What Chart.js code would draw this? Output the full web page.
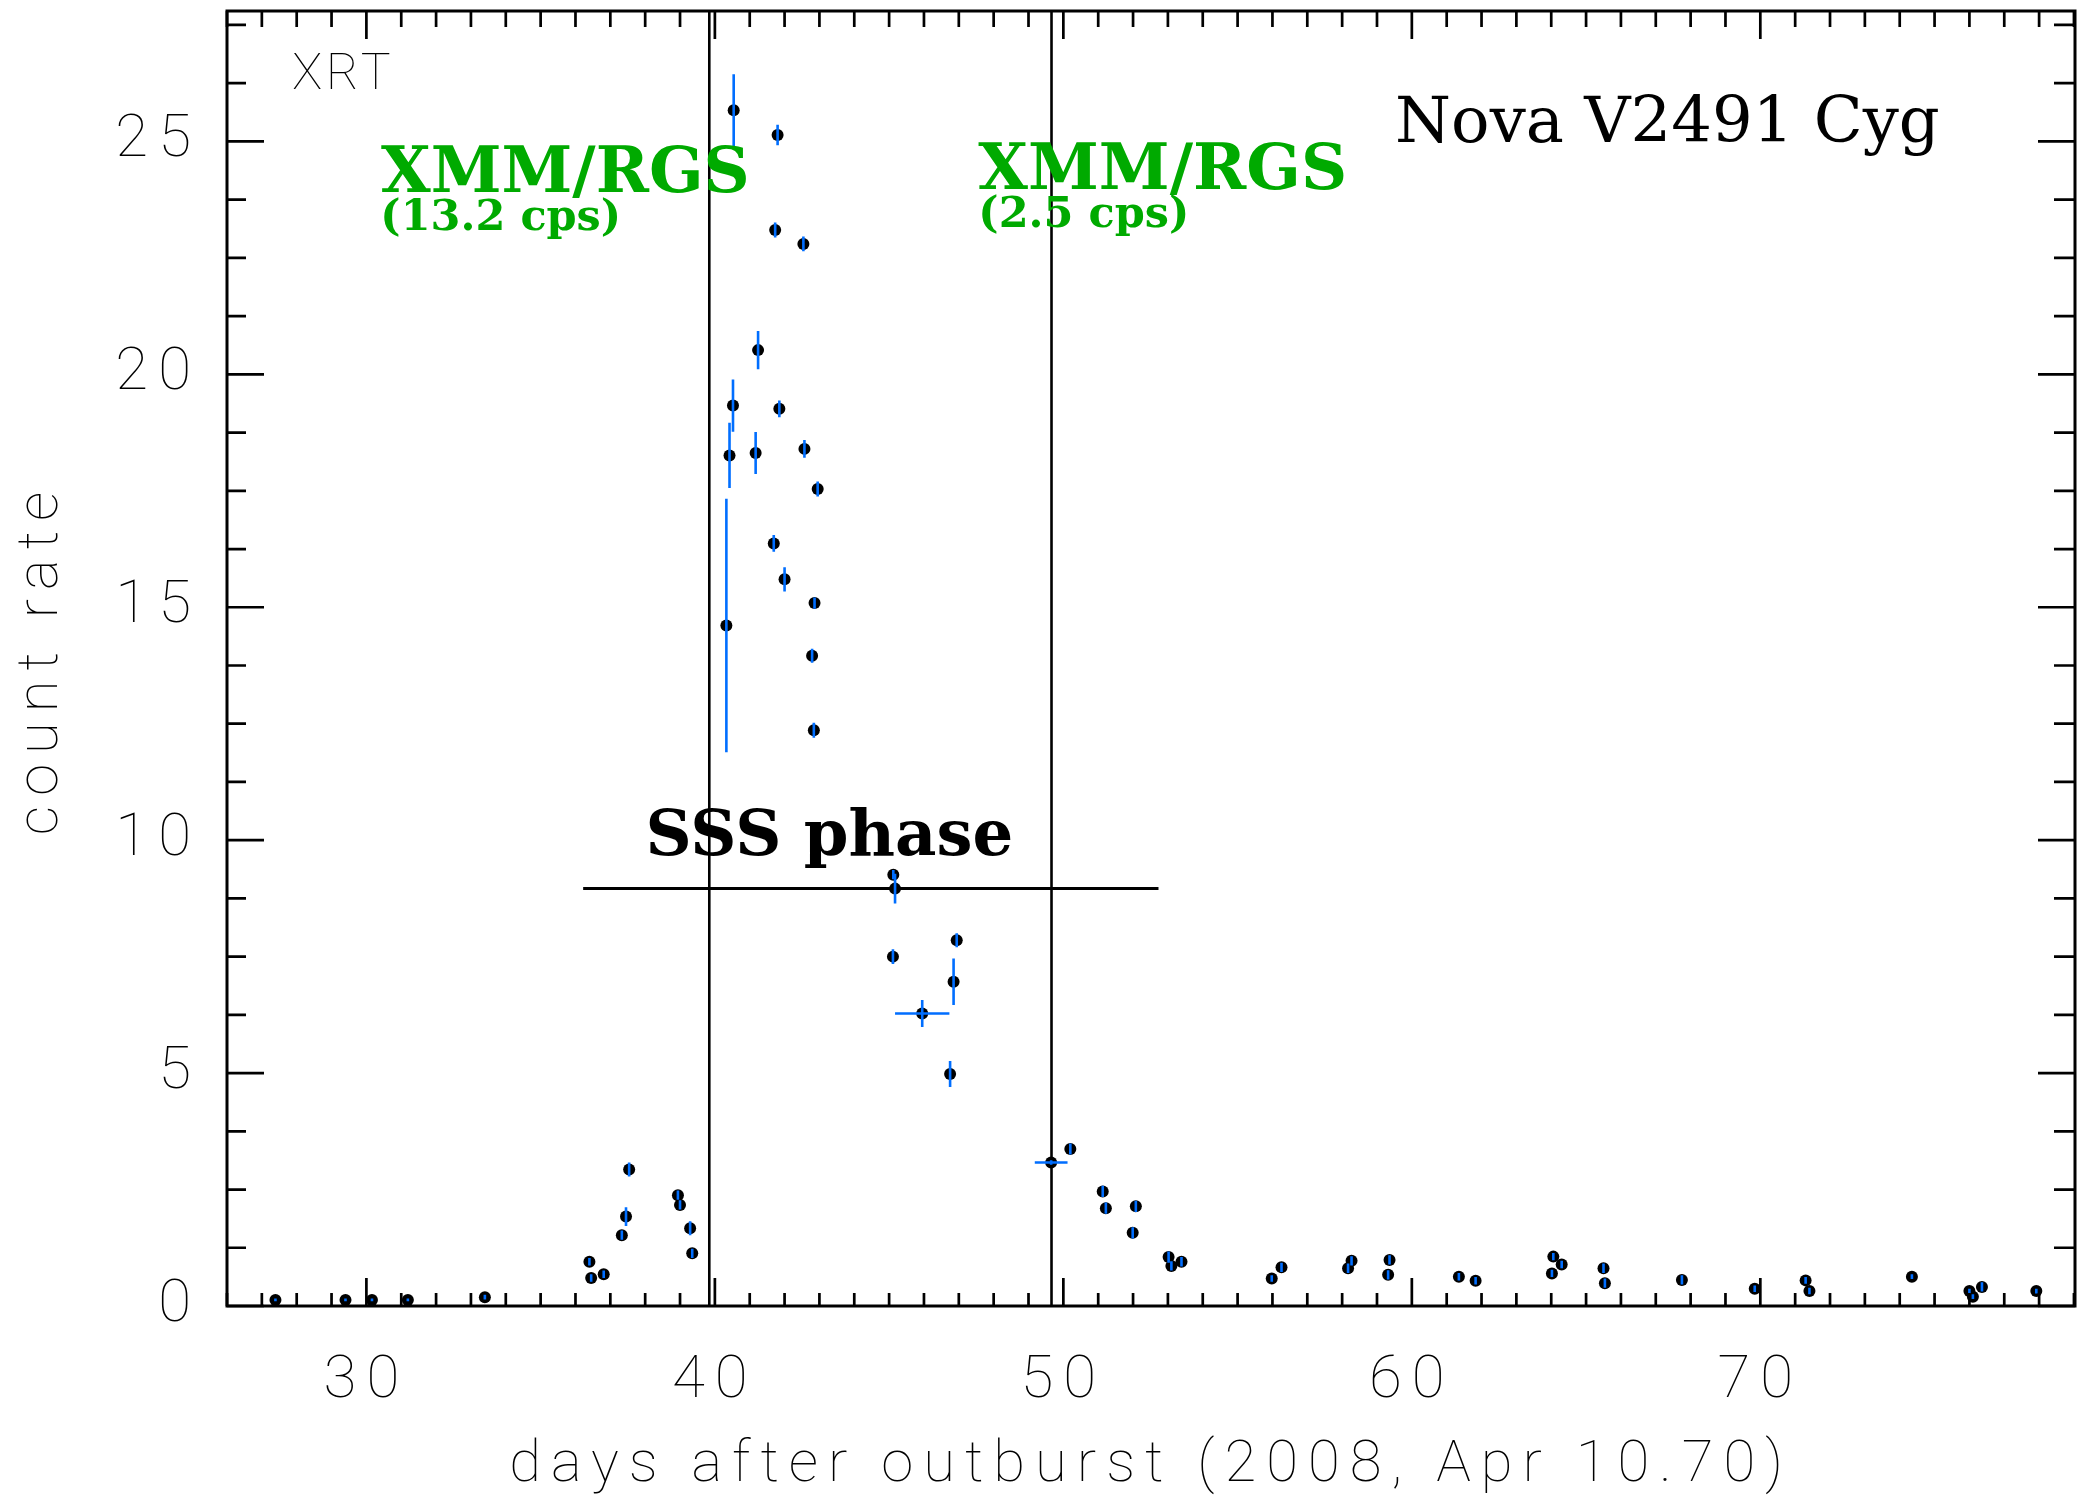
<!DOCTYPE html>
<html><head><meta charset="utf-8">
<script src="https://cdn.jsdelivr.net/npm/chart.js@4"></script>
<style>html,body{margin:0;padding:0;background:#fff;}#wrap{width:2081px;height:1498px;}</style>
</head><body><div id="wrap"><canvas id="c" width="2081" height="1498"></canvas></div>
<script>
// ---- data (days after outburst, XRT count rate) ----
const days = [27.39,29.40,30.16,31.19,33.40,36.40,36.45,36.81,37.33,37.45,37.54,38.94,39.00,39.29,39.35,
  40.33,40.42,40.52,40.54,41.17,41.24,41.69,41.73,41.80,41.85,42.00,42.54,42.57,42.79,42.84,42.86,42.95,
  45.12,45.17,45.11,45.95,46.75,46.85,46.94,
  49.65,50.20,51.13,51.22,51.99,52.08,53.02,53.10,53.39,55.98,56.26,58.17,58.27,59.32,59.36,61.35,61.83,
  64.02,64.06,64.30,65.50,65.54,67.75,69.84,71.30,71.41,74.35,76.00,76.10,76.36,77.92];
const rates = [0.13,0.13,0.13,0.13,0.19,0.95,0.60,0.68,1.52,1.92,2.93,2.38,2.17,1.67,1.13,
  14.61,18.26,19.33,25.67,18.31,20.52,16.37,23.10,25.14,19.26,15.60,22.80,18.40,13.96,12.36,15.09,17.54,
  9.26,8.96,7.50,6.28,4.98,6.96,7.85,
  3.08,3.37,2.46,2.10,1.57,2.14,1.05,0.86,0.95,0.59,0.83,0.81,0.97,0.67,0.99,0.63,0.54,
  0.70,1.06,0.89,0.81,0.49,0.56,0.37,0.55,0.32,0.63,0.32,0.20,0.41,0.32];
const rateErr = [0.03,0.03,0.03,0.03,0.05,0.08,0.08,0.08,0.10,0.20,0.15,0.10,0.10,0.15,0.10,
  2.72,0.70,0.56,0.77,0.45,0.41,0.18,0.16,0.22,0.18,0.26,0.16,0.19,0.15,0.16,0.12,0.16,
  0.10,0.32,0.16,0.29,0.28,0.50,0.15,
  0.05,0.12,0.12,0.12,0.12,0.12,0.12,0.10,0.10,0.07,0.10,0.10,0.10,0.10,0.10,0.08,0.08,
  0.08,0.08,0.08,0.10,0.10,0.10,0.07,0.07,0.07,0.05,0.05,0.05,0.10,0.05];
const dayErr = days.map((d,i)=> i===35 ? 0.78 : (i===39 ? 0.47 : 0));
const xTickLabels = [30,40,50,60,70];
const yTickLabels = [0,5,10,15,20,25];
const xRange = [26.0, 79.03];
const yRange = [0, 27.8];
const rgsDays = [39.84, 49.66];
const sssDays = [36.22, 52.73];
const sssLevel = 8.96;

const GREEN = '#00aa00', BLUE = 'rgb(0,110,255)';
const THIN = 'Roboto';

const pts = days.map((d,i)=>({x:d, y:rates[i]}));

const spacingPlugin = {
  id:'spacing',
  beforeDraw(chart){ chart.ctx.save(); chart.ctx.letterSpacing = '10px'; }
};

const errPlugin = {
  id:'errbars',
  afterDatasetsDraw(chart){
    const {ctx, scales:{x,y}} = chart;
    ctx.save();
    ctx.strokeStyle = BLUE; ctx.lineWidth = 2.6; ctx.lineCap='butt';
    ctx.beginPath();
    days.forEach((d,i)=>{
      const px = x.getPixelForValue(d);
      if (rateErr[i] > 0) {
        ctx.moveTo(px, y.getPixelForValue(rates[i]-rateErr[i]));
        ctx.lineTo(px, y.getPixelForValue(rates[i]+rateErr[i]));
      }
      if (dayErr[i] > 0) {
        const py = y.getPixelForValue(rates[i]);
        ctx.moveTo(x.getPixelForValue(d-dayErr[i]), py);
        ctx.lineTo(x.getPixelForValue(d+dayErr[i]), py);
      }
    });
    ctx.stroke();
    ctx.restore();
  }
};

const framePlugin = {
  id:'frame',
  afterDraw(chart){
    const {ctx, chartArea:a, scales:{x,y}} = chart;
    ctx.restore(); // from spacing plugin
    ctx.save();
    ctx.letterSpacing = '0px';
    ctx.strokeStyle = '#000'; ctx.lineCap='butt';
    ctx.lineWidth = 2.7;
    ctx.beginPath();
    for (let d = Math.ceil(xRange[0]); d <= Math.floor(xRange[1]); d++) {
      const px = x.getPixelForValue(d);
      const major = d % 10 === 0;
      ctx.moveTo(px, a.bottom); ctx.lineTo(px, a.bottom - (major ? 28 : 13));
      ctx.moveTo(px, a.top); ctx.lineTo(px, a.top + (major ? 28 : 16));
    }
    for (let k = 0; k * 1.25 <= yRange[1]; k++) {
      const py = y.getPixelForValue(k * 1.25);
      const major = k % 4 === 0;
      ctx.moveTo(a.left, py); ctx.lineTo(a.left + (major ? 37 : 19), py);
      ctx.moveTo(a.right, py); ctx.lineTo(a.right - (major ? 37 : 21), py);
    }
    ctx.stroke();
    ctx.lineWidth = 3;
    ctx.strokeRect(a.left, a.top, a.right - a.left, a.bottom - a.top);

    // annotations placed in data coordinates
    const T = (txt, dx, dy, font, color) => {
      ctx.font = font; ctx.fillStyle = color; ctx.textBaseline = 'alphabetic'; ctx.textAlign = 'left';
      ctx.fillText(txt, x.getPixelForValue(dx), y.getPixelForValue(dy));
    };
    T('XMM/RGS', 30.42, 23.91, 'bold 64px "DejaVu Serif"', GREEN);
    T('(13.2 cps)', 30.40, 23.09, 'bold 43px "DejaVu Serif"', GREEN);
    T('XMM/RGS', 47.56, 23.98, 'bold 64px "DejaVu Serif"', GREEN);
    T('(2.5 cps)', 47.56, 23.16, 'bold 43px "DejaVu Serif"', GREEN);
    T('Nova V2491 Cyg', 59.52, 24.98, '64px "DejaVu Serif"', '#000');
    T('SSS phase', 38.01, 9.68, 'bold 64px "DejaVu Serif"', '#000');
    ctx.letterSpacing = '4px';
    T('XRT', 27.87, 26.12, '100 50px ' + THIN, '#000');
    ctx.restore();
  }
};

const vline = (d) => ({type:'scatter', showLine:true, data:[{x:d,y:yRange[0]},{x:d,y:yRange[1]}],
  borderColor:'#000', borderWidth:2.6, pointRadius:0, order:3});

new Chart(document.getElementById('c'), {
  type:'scatter',
  data:{datasets:[
    {label:'XRT', data:pts, pointRadius:6, pointHoverRadius:6, pointStyle:'circle',
     backgroundColor:'#000', borderColor:'#000', pointBorderWidth:0, order:1},
    vline(rgsDays[0]), vline(rgsDays[1]),
    {type:'scatter', showLine:true, data:[{x:sssDays[0],y:sssLevel},{x:sssDays[1],y:sssLevel}],
     borderColor:'#000', borderWidth:3, pointRadius:0, order:3}
  ]},
  options:{
    responsive:false, animation:false, devicePixelRatio:1,
    layout:{padding:{top:11, right:3, left:0, bottom:0}},
    plugins:{legend:{display:false}, tooltip:{enabled:false}},
    scales:{
      x:{type:'linear', min:xRange[0], max:xRange[1],
        grid:{display:false, drawTicks:false}, border:{display:false},
        afterBuildTicks:(s)=>{ s.ticks = xTickLabels.map(v=>({value:v})); },
        afterFit:(s)=>{ s.height = 192; s.paddingLeft = 0; s.paddingRight = 0; },
        ticks:{color:'#000', padding:40, maxRotation:0, autoSkip:false, font:{family:THIN, weight:'100', size:60}},
        title:{display:true, text:'days after outburst (2008, Apr 10.70)', color:'#000',
          font:{family:THIN, weight:'100', size:58}, padding:{top:0,bottom:-3}}
      },
      y:{type:'linear', min:yRange[0], max:yRange[1],
        grid:{display:false, drawTicks:false}, border:{display:false},
        afterBuildTicks:(s)=>{ s.ticks = yTickLabels.map(v=>({value:v})); },
        afterFit:(s)=>{ s.width = 227; s.paddingTop = 0; s.paddingBottom = 0; },
        ticks:{color:'#000', padding:26, autoSkip:false, font:{family:THIN, weight:'100', size:60}},
        title:{display:true, text:'count rate', color:'#000',
          font:{family:THIN, weight:'100', size:58}, padding:{top:8,bottom:0}}
      }
    }
  },
  plugins:[spacingPlugin, errPlugin, framePlugin]
});
</script></body></html>
